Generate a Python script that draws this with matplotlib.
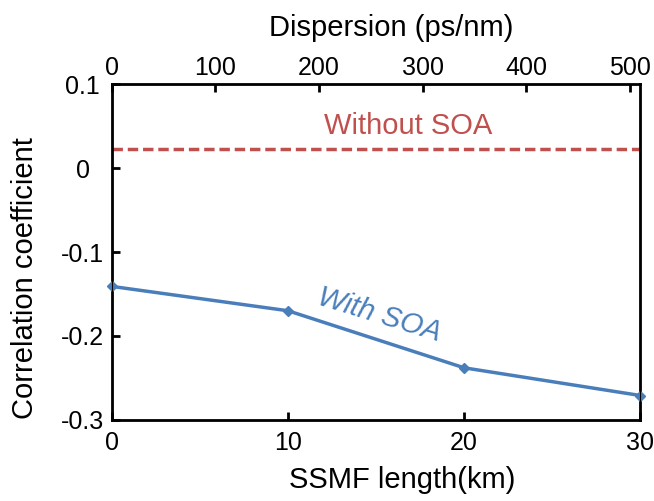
import matplotlib.pyplot as plt

plt.rcParams['font.family'] = ['Liberation Sans', 'DejaVu Sans']

# SSMF length (km) and correlation coefficients
length_km = [0, 10, 20, 30]
with_soa = [-0.141, -0.170, -0.238, -0.271]
without_soa = 0.023
dispersion_ticks = [0, 100, 200, 300, 400, 500]

blue = '#4a7ebb'
red = '#c0504d'

fig = plt.figure(figsize=(6.54, 5.01), dpi=100)
ax = fig.add_axes([0.171, 0.162, 0.808, 0.670])

ax.plot(length_km, with_soa, color=blue, lw=2.5, marker='D', ms=5.5, clip_on=False, zorder=3)
ax.axhline(without_soa, color=red, lw=2.5, ls=(0, (3, 1.4)))

ax.set_xlim(0, 30)
ax.set_ylim(-0.3, 0.1)
ax.set_xticks([0, 10, 20, 30])
ax.set_yticks([-0.3, -0.2, -0.1, 0, 0.1])
ax.set_yticklabels(['-0.3', '-0.2', '-0.1', '0', '0.1'], ha='center')
ax.tick_params(direction='in', length=6, width=2, labelsize=18)
ax.tick_params(axis='y', pad=21)
ax.tick_params(axis='x', pad=8)
for s in ax.spines.values():
    s.set_linewidth(2)

ax.set_xlabel('SSMF length(km)', fontsize=21)
ax.xaxis.set_label_coords(0.549, -0.137)
ax.set_ylabel('Correlation coefficient', fontsize=21)
ax.yaxis.set_label_coords(-0.138, 0.423)

# dispersion axis on top: 17 ps/nm/km
top = ax.twiny()
top.set_xlim(0, 510)
top.set_xticks(dispersion_ticks)
top.tick_params(direction='in', length=6, width=2, labelsize=18, pad=3)
top.set_xlabel('Dispersion (ps/nm)', fontsize=21)
top.xaxis.set_label_coords(0.528, 1.143)

ax.text(16.8, 0.05, 'Without SOA', color=red, fontsize=21, ha='center', va='center')
ax.text(15.2, -0.175, 'With SOA', color=blue, fontsize=21, style='italic',
        ha='center', va='center', rotation=-17)

fig.savefig('out.png', dpi=100)
